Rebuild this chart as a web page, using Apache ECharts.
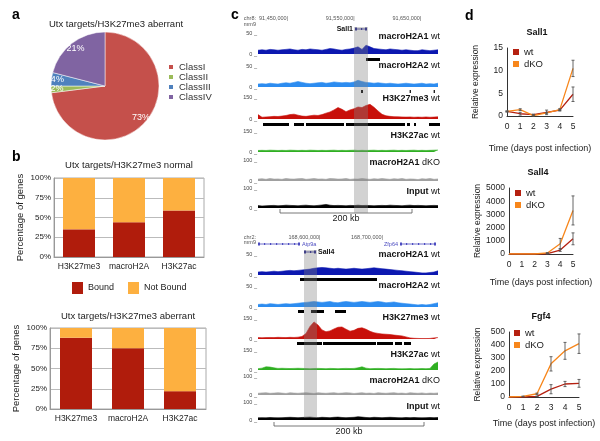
<!DOCTYPE html>
<html>
<head>
<meta charset="utf-8">
<title>Utx targets / macroH2A</title>
<script src="https://cdn.jsdelivr.net/npm/echarts@6/dist/echarts.min.js"></script>
<style>
  html, body { margin: 0; padding: 0; background: #fff; }
  #main { width: 600px; height: 441px; }
</style>
</head>
<body>
<div id="main"></div>
<script>
// panel a
var pieClasses = ['ClassI', 'ClassII', 'ClassIII', 'ClassIV'];
var piePct = [73, 2, 4, 21];

// panel b
var barCats = ['H3K27me3', 'macroH2A', 'H3K27ac'];
var pctTicks = ['0%', '25%', '50%', '75%', '100%'];
var normalBound = [35, 44, 59];
var normalNotBound = [65, 56, 41];
var aberrantBound = [88, 75, 22];
var aberrantNotBound = [12, 25, 78];

// panel c, top locus (chr8, kb, 46 bins)
var chr8Start = 91405, chr8Step = 6;
var chr8Ticks = [91450, 91550, 91650];
var chr8M1 = [9,10,9,11,10,9,10,11,12,10,9,11,10,12,11,10,9,11,13,12,10,9,11,12,14,17,11,21,17,13,12,11,10,12,11,10,9,10,9,8,8,10,9,8,9,10];
var chr8M2 = [7,8,7,9,8,7,9,10,9,11,13,11,9,8,9,10,11,9,10,12,11,10,11,10,12,16,13,11,10,9,10,9,8,9,8,7,8,9,8,7,8,9,7,8,7,9];
var chr8Me3 = [30,12,14,16,18,17,20,24,30,33,26,20,18,22,26,24,30,40,48,62,78,66,50,62,70,82,78,92,100,80,55,32,22,18,16,15,14,13,14,12,13,12,14,12,13,15];
var chr8Ac = [11,12,11,13,12,11,12,11,13,12,11,12,11,13,12,11,12,11,12,13,11,12,11,12,13,11,12,11,12,13,11,12,11,12,13,11,12,11,12,13,11,12,11,12,13,14];
var chr8Dko = [9,11,8,12,9,10,8,12,10,9,11,12,8,10,12,9,10,8,12,11,9,10,12,8,10,9,12,10,8,11,9,12,10,8,11,9,12,8,10,9,7,11,9,12,8,10];
var chr8Input = [12,10,11,12,13,11,12,14,13,12,11,13,14,12,11,13,15,18,14,12,13,12,11,13,12,14,12,13,12,11,12,13,12,14,13,12,11,13,14,12,13,12,11,12,13,12];
var chr8PeaksM1 = [[91567, 91588]];
var chr8PeaksM2 = [[91559.5, 91562.5], [91632.5, 91634], [91668.5, 91670]];
var chr8PeaksMe3 = [[91412.5, 91451.5], [91459, 91474], [91477, 91534], [91537, 91625.5], [91628.5, 91633], [91639, 91642], [91661.5, 91678]];
var chr8Highlight = [[91549, 91570]];
var chr8Genes = ['Sall1'];
var chr8GeneStart = [91550.5];
var chr8GeneEnd = [91568.5];

// panel c, bottom locus (chr2, kb, 46 bins)
var chr2Start = 168500, chr2Step = 6.4;
var chr2Ticks = [168600, 168700];
var chr2M1 = [7,8,7,8,9,8,9,10,11,10,11,12,13,14,16,17,18,17,16,15,16,15,14,15,16,15,14,15,16,17,16,15,14,13,12,11,10,9,8,7,6,5,5,6,7,10];
var chr2M2 = [6,7,6,8,7,6,7,8,7,8,9,10,11,12,13,12,11,12,13,11,10,12,13,12,11,12,13,12,11,12,13,12,10,11,12,10,9,8,7,6,5,6,5,6,8,10];
var chr2Me3 = [10,9,10,11,10,12,11,10,12,11,13,18,40,90,122,100,65,52,58,72,84,86,70,56,62,76,80,70,55,45,40,36,34,32,28,25,22,15,8,5,4,3,3,4,8,10];
var chr2Ac = [10,14,24,22,16,12,13,12,11,12,13,12,11,10,11,12,11,10,12,11,10,11,12,11,12,16,24,14,10,11,12,11,10,11,12,10,9,10,11,9,10,11,10,12,45,60];
var chr2Dko = [9,11,12,9,10,12,10,8,12,10,9,11,12,10,8,12,10,9,11,12,9,10,12,11,8,10,12,9,10,8,12,10,9,11,12,9,10,8,12,10,9,11,8,10,9,11];
var chr2Input = [12,13,12,14,13,12,13,14,15,14,13,14,15,16,14,13,15,14,13,15,16,14,13,14,15,18,16,14,13,15,14,13,14,15,14,13,12,14,13,14,13,12,13,14,13,14];
var chr2PeaksM1 = [[168567.2, 168690.4]];
var chr2PeaksM2 = [[168564, 168573.6], [168584.8, 168605.6], [168623.2, 168640.8]];
var chr2PeaksMe3 = [[168562.4, 168602.4], [168604, 168688.8], [168690.4, 168716], [168719.2, 168730.4], [168733.6, 168744.8]];
var chr2Highlight = [[168573.6, 168594.4]];
var chr2Genes = ['Atp9a', 'Sall4', 'Zfp64'];
var chr2GeneStart = [168500, 168573.6, 168727.2];
var chr2GeneEnd = [168567.2, 168592.8, 168784.8];

// panel d
var days = [0, 1, 2, 3, 4, 5];
var sall1Wt = [1.0, 0.5, 0.3, 0.8, 1.3, 4.8];
var sall1WtErr = [0.1, 0.3, 0.1, 0.5, 0.2, 1.6];
var sall1Ko = [1.0, 1.4, 0.1, 0.7, 1.4, 10.5];
var sall1KoErr = [0.1, 0.2, 0.1, 0.1, 0.2, 1.8];
var sall4Wt = [0, 0, 0, 20, 300, 1150];
var sall4WtErr = [0, 0, 0, 10, 100, 450];
var sall4Ko = [0, 0, 0, 80, 780, 3300];
var sall4KoErr = [0, 0, 0, 20, 400, 1100];
var fgf4Wt = [0, 0, 5, 60, 100, 105];
var fgf4WtErr = [0, 0, 2, 35, 20, 30];
var fgf4Ko = [0, 5, 25, 255, 355, 410];
var fgf4KoErr = [0, 2, 5, 55, 65, 75];

var FONT = '"Liberation Sans", Arial, sans-serif';
var BOUND = '#b01c0c', NOTBOUND = '#fdb040';
var WT = '#b52010', KO = '#f7861b';

var grid = [], xAxis = [], yAxis = [], series = [], graphic = [], legend = [];

function addGrid(g, xa, ya) {
  var i = grid.length;
  grid.push(g);
  xa.gridIndex = i;
  ya.gridIndex = i;
  xAxis.push(xa);
  yAxis.push(ya);
  return i;
}

function txt(x, y, s, o) {
  o = o || {};
  graphic.push({
    type: 'text', x: x, y: y, silent: true,
    style: {
      text: s, fill: o.color || '#222', fontSize: o.size || 9,
      fontWeight: o.weight || 'normal', fontFamily: FONT,
      align: o.align || 'left', verticalAlign: 'middle', rich: o.rich
    }
  });
}

function kbLabel(v) {
  return String(Math.round(v * 1000)).replace(/\B(?=(\d{3})+(?!\d))/g, ',') + '|';
}

// ---------- panel a ----------
series.push({
  type: 'pie', center: [105, 86], radius: 54, startAngle: 90,
  color: ['#c5504b', '#9bbb59', '#4f81bd', '#8064a2'],
  label: { show: false }, labelLine: { show: false },
  itemStyle: { borderColor: '#fff', borderWidth: 0.5 },
  data: pieClasses.map(function (n, i) { return { name: n, value: piePct[i] }; })
});
series.push({
  type: 'pie', center: [105, 86], radius: [36, 54], startAngle: 90, silent: true,
  legendHoverLink: false,
  itemStyle: { color: 'rgba(0,0,0,0)' },
  label: { position: 'inside', formatter: '{c}%', color: '#fff', fontSize: 9, fontFamily: FONT },
  data: pieClasses.map(function (n, i) { return { name: n, value: piePct[i] }; })
});
legend.push({
  data: pieClasses, orient: 'vertical', left: 162, top: 57, icon: 'rect',
  itemWidth: 6, itemHeight: 6, itemGap: 0, selectedMode: false,
  textStyle: { fontSize: 9.5, color: '#333', fontFamily: FONT }
});

// ---------- panel b ----------
function barPanel(left, top, width, height, bound, notBound) {
  var gi = addGrid({ left: left, top: top, width: width, height: height, show: true, borderColor: '#aaa', borderWidth: 1 },
    { type: 'category', data: barCats, axisLine: { lineStyle: { color: '#999' } }, axisTick: { show: false },
      axisLabel: { interval: 0, hideOverlap: false, fontSize: 8.5, color: '#222', margin: 5, fontFamily: FONT } },
    { type: 'value', min: 0, max: 100, interval: 25, name: 'Percentage of genes', nameLocation: 'middle', nameGap: 29,
      nameTextStyle: { fontSize: 9.5, color: '#222', fontFamily: FONT },
      axisLine: { show: true, lineStyle: { color: '#999' } }, axisTick: { show: false },
      splitLine: { lineStyle: { color: '#bbb' } },
      axisLabel: { fontSize: 8, color: '#222', margin: 3, fontFamily: FONT, formatter: function (v) { return pctTicks[v / 25]; } } });
  series.push({ name: 'Bound', type: 'bar', stack: 's' + gi, xAxisIndex: gi, yAxisIndex: gi, data: bound, barWidth: 32, itemStyle: { color: BOUND } });
  series.push({ name: 'Not Bound', type: 'bar', stack: 's' + gi, xAxisIndex: gi, yAxisIndex: gi, data: notBound, barWidth: 32, itemStyle: { color: NOTBOUND } });
}
barPanel(54, 178, 150, 79, normalBound, normalNotBound);
barPanel(50, 328, 156, 81, aberrantBound, aberrantNotBound);
legend.push({
  data: ['Bound', 'Not Bound'], left: 67, top: 277, icon: 'rect', itemWidth: 11, itemHeight: 12, itemGap: 14,
  selectedMode: false, textStyle: { fontSize: 9, color: '#222', fontFamily: FONT }
});

// ---------- panel c ----------
function peakItem(off) {
  return function (params, api) {
    var s = api.coord([api.value(0), 0]);
    var e = api.coord([api.value(1), 0]);
    return { type: 'rect', shape: { x: s[0], y: s[1] + off, width: Math.max(e[0] - s[0], 1.2), height: 3 }, style: { fill: '#000' } };
  };
}

function locus(start, step, tracks, ticks, tickMargin, hlTop, hlHeight, hl, geneTop, geneHeight, genes, gStart, gEnd, gRow) {
  var xmin = start, xmax = start + 45 * step;
  tracks.forEach(function (t) {
    var gi = addGrid({ left: 258, width: 180, top: t.top, height: t.h },
      { type: 'value', min: xmin, max: xmax, show: false },
      { type: 'value', min: 0, max: t.max, axisLine: { show: false }, axisTick: { show: false }, splitLine: { show: false },
        axisLabel: { customValues: [0, t.max], formatter: '{value} _', fontSize: 5.5, color: '#444', margin: 1, fontFamily: FONT } });
    series.push({
      type: 'line', xAxisIndex: gi, yAxisIndex: gi, showSymbol: false, silent: true, z: 3,
      lineStyle: { width: 0.6, color: t.color }, areaStyle: { color: t.color, opacity: 1 },
      data: t.data.map(function (v, i) { return [start + i * step, v]; })
    });
    if (t.peaks) {
      series.push({ type: 'custom', xAxisIndex: gi, yAxisIndex: gi, silent: true, z: 3, renderItem: peakItem(t.off), data: t.peaks });
    }
    txt(440, t.ly, '{b|' + t.bold + '}' + t.rest, { size: 9, align: 'right', color: '#111', rich: { b: { fontWeight: 'bold', fontSize: 9, fontFamily: FONT } } });
  });

  // highlighted gene column + coordinate header
  var ri = addGrid({ left: 258, width: 180, top: hlTop, height: hlHeight },
    { type: 'value', min: xmin, max: xmax, position: 'top', axisLine: { show: false }, axisTick: { show: false }, splitLine: { show: false },
      axisLabel: { customValues: ticks, formatter: kbLabel, fontSize: 5.5, color: '#555', margin: tickMargin, align: 'right', fontFamily: FONT } },
    { type: 'value', min: 0, max: 1, show: false });
  series.push({
    type: 'custom', xAxisIndex: ri, yAxisIndex: ri, silent: true, z: 6, data: hl,
    renderItem: function (params, api) {
      var a = api.coord([api.value(0), 1]), b = api.coord([api.value(1), 0]);
      return { type: 'rect', shape: { x: a[0], y: a[1], width: b[0] - a[0], height: b[1] - a[1] }, style: { fill: 'rgba(130,130,130,0.36)' } };
    }
  });

  // gene models
  var gi2 = addGrid({ left: 258, width: 180, top: geneTop, height: geneHeight },
    { type: 'value', min: xmin, max: xmax, show: false },
    { type: 'value', min: 0, max: 1, show: false });
  series.push({
    type: 'custom', xAxisIndex: gi2, yAxisIndex: gi2, silent: true, z: 4,
    data: genes.map(function (g, i) { return [gStart[i], gEnd[i], gRow[i], i]; }),
    renderItem: function (params, api) {
      var i = api.value(3), name = genes[i];
      var s = api.coord([api.value(0), api.value(2)]), e = api.coord([api.value(1), api.value(2)]);
      var main = (name === 'Sall1' || name === 'Sall4');
      var col = main ? '#1c1c8a' : '#4b4bc0';
      var kids = [
        { type: 'line', shape: { x1: s[0], y1: s[1], x2: e[0], y2: e[1] }, style: { stroke: col, lineWidth: 0.8 } },
        { type: 'rect', shape: { x: s[0], y: s[1] - 1.5, width: 2, height: 3 }, style: { fill: col } },
        { type: 'rect', shape: { x: e[0] - 2, y: e[1] - 1.5, width: 2, height: 3 }, style: { fill: col } }
      ];
      for (var x = s[0] + 6; x < e[0] - 4; x += 6) {
        kids.push({ type: 'rect', shape: { x: x, y: s[1] - 1, width: 1.2, height: 2 }, style: { fill: col } });
      }
      var left = (name === 'Sall1' || name === 'Zfp64');
      kids.push({
        type: 'text', x: left ? s[0] - 2 : e[0] + 2, y: s[1],
        style: { text: name, fill: main ? '#111' : '#4b4bc0', fontSize: main ? 7 : 5.5, fontWeight: main ? 'bold' : 'normal',
          fontFamily: FONT, align: left ? 'right' : 'left', verticalAlign: 'middle' }
      });
      return { type: 'group', children: kids };
    }
  });
}

locus(chr8Start, chr8Step, [
  { data: chr8M1, max: 50, color: '#0c18b0', top: 33, h: 21, bold: 'macroH2A1', rest: ' wt', ly: 37, peaks: chr8PeaksM1, off: 4 },
  { data: chr8M2, max: 50, color: '#2c8cf0', top: 66, h: 21, bold: 'macroH2A2', rest: ' wt', ly: 66, peaks: chr8PeaksM2, off: 3 },
  { data: chr8Me3, max: 150, color: '#c8100a', top: 97, h: 22, bold: 'H3K27me3', rest: ' wt', ly: 99, peaks: chr8PeaksMe3, off: 4 },
  { data: chr8Ac, max: 150, color: '#2faf22', top: 131, h: 21, bold: 'H3K27ac', rest: ' wt', ly: 136 },
  { data: chr8Dko, max: 100, color: '#a0a0a0', top: 160, h: 21, bold: 'macroH2A1', rest: ' dKO', ly: 163 },
  { data: chr8Input, max: 100, color: '#000000', top: 188, h: 20, bold: 'Input', rest: ' wt', ly: 192 }
], chr8Ticks, 6, 27, 186, chr8Highlight, 25, 8, chr8Genes, chr8GeneStart, chr8GeneEnd, [0.5]);

locus(chr2Start, chr2Step, [
  { data: chr2M1, max: 50, color: '#0c18b0', top: 254, h: 21, bold: 'macroH2A1', rest: ' wt', ly: 255, peaks: chr2PeaksM1, off: 3 },
  { data: chr2M2, max: 50, color: '#2c8cf0', top: 286, h: 21, bold: 'macroH2A2', rest: ' wt', ly: 286, peaks: chr2PeaksM2, off: 3 },
  { data: chr2Me3, max: 150, color: '#c8100a', top: 318, h: 21, bold: 'H3K27me3', rest: ' wt', ly: 318, peaks: chr2PeaksMe3, off: 3 },
  { data: chr2Ac, max: 150, color: '#2faf22', top: 350, h: 20, bold: 'H3K27ac', rest: ' wt', ly: 355 },
  { data: chr2Dko, max: 100, color: '#a0a0a0', top: 376, h: 19, bold: 'macroH2A1', rest: ' dKO', ly: 381 },
  { data: chr2Input, max: 100, color: '#000000', top: 402, h: 18, bold: 'Input', rest: ' wt', ly: 407 }
], chr2Ticks, 10, 250, 168, chr2Highlight, 240, 16, chr2Genes, chr2GeneStart, chr2GeneEnd, [0.75, 0.25, 0.75]);

txt(256, 18, 'chr8:', { size: 5.5, align: 'right', color: '#555' });
txt(256, 24, 'mm9', { size: 5.5, align: 'right', color: '#555' });
txt(256, 237, 'chr2:', { size: 5.5, align: 'right', color: '#555' });
txt(256, 242, 'mm9', { size: 5.5, align: 'right', color: '#555' });

function scaleBar(x1, x2, y, label) {
  graphic.push({ type: 'polyline', silent: true, shape: { points: [[x1, y - 4], [x1, y], [x2, y], [x2, y - 4]] }, style: { stroke: '#555', lineWidth: 0.8, fill: null } });
  txt((x1 + x2) / 2, y + 6, label, { size: 9, align: 'center', color: '#222' });
}
scaleBar(280, 412, 213, '200 kb');
scaleBar(274, 424, 426, '200 kb');

// ---------- panel d ----------
function errItem(params, api) {
  if (api.value(2) - api.value(1) <= 0) return null;
  var t = api.coord([api.value(0), api.value(2)]), b = api.coord([api.value(0), api.value(1)]);
  var st = { stroke: '#555', lineWidth: 0.9 };
  return { type: 'group', children: [
    { type: 'line', shape: { x1: t[0], y1: t[1], x2: b[0], y2: b[1] }, style: st },
    { type: 'line', shape: { x1: t[0] - 1.5, y1: t[1], x2: t[0] + 1.5, y2: t[1] }, style: st },
    { type: 'line', shape: { x1: b[0] - 1.5, y1: b[1], x2: b[0] + 1.5, y2: b[1] }, style: st }
  ] };
}

function expPanel(title, left, top, width, height, ymax, yint, wt, wtErr, ko, koErr, legLeft, legTop, xGap) {
  var gi = addGrid({ left: left, top: top, width: width, height: height },
    { type: 'value', min: 0, max: 5, interval: 1, name: 'Time (days post infection)', nameLocation: 'middle', nameGap: xGap,
      nameTextStyle: { fontSize: 9, color: '#222', fontFamily: FONT },
      axisLine: { lineStyle: { color: '#333' } }, axisTick: { show: false }, splitLine: { show: false },
      axisLabel: { fontSize: 8.5, color: '#222', margin: 6, fontFamily: FONT } },
    { type: 'value', min: 0, max: ymax, interval: yint, name: 'Relative expression', nameLocation: 'middle', nameGap: 27,
      nameTextStyle: { fontSize: 8.5, color: '#222', fontFamily: FONT },
      axisLine: { show: true, lineStyle: { color: '#333' } }, axisTick: { show: false }, splitLine: { show: false },
      axisLabel: { fontSize: 8.5, color: '#222', margin: 4, fontFamily: FONT, formatter: function (v) { return String(v); } } });
  series.push({ name: 'wt', type: 'line', xAxisIndex: gi, yAxisIndex: gi, symbol: 'none', z: 3, lineStyle: { width: 1.3, color: WT }, itemStyle: { color: WT },
    data: days.map(function (d, i) { return [d, wt[i]]; }) });
  series.push({ name: 'dKO', type: 'line', xAxisIndex: gi, yAxisIndex: gi, symbol: 'none', z: 3, lineStyle: { width: 1.3, color: KO }, itemStyle: { color: KO },
    data: days.map(function (d, i) { return [d, ko[i]]; }) });
  series.push({ type: 'custom', xAxisIndex: gi, yAxisIndex: gi, silent: true, z: 4, renderItem: errItem,
    data: days.map(function (d, i) { return [d, wt[i] - wtErr[i], wt[i] + wtErr[i]]; }) });
  series.push({ type: 'custom', xAxisIndex: gi, yAxisIndex: gi, silent: true, z: 4, renderItem: errItem,
    data: days.map(function (d, i) { return [d, ko[i] - koErr[i], ko[i] + koErr[i]]; }) });
  legend.push({ data: ['wt', 'dKO'], orient: 'vertical', left: legLeft, top: legTop, icon: 'rect', itemWidth: 6, itemHeight: 6, itemGap: 2,
    selectedMode: false, textStyle: { fontSize: 9.5, color: '#222', fontFamily: FONT } });
  txt(left + width / 2 - 3, top - 15, title, { size: 9, weight: 'bold', align: 'center', color: '#111' });
}
expPanel('Sall1', 507, 48, 66, 68, 15, 5, sall1Wt, sall1WtErr, sall1Ko, sall1KoErr, 508, 42, 28);
expPanel('Sall4', 509, 188, 64, 66, 5000, 1000, sall4Wt, sall4WtErr, sall4Ko, sall4KoErr, 510, 183, 24);
expPanel('Fgf4', 509, 332, 70, 65, 500, 100, fgf4Wt, fgf4WtErr, fgf4Ko, fgf4KoErr, 509, 323, 22);

// titles and panel letters
txt(116, 24, 'Utx targets/H3K27me3 aberrant', { size: 9.5, align: 'center' });
txt(129, 165, 'Utx targets/H3K27me3 normal', { size: 9.5, align: 'center' });
txt(128, 316, 'Utx targets/H3K27me3 aberrant', { size: 9.5, align: 'center' });
txt(12, 15, 'a', { size: 14, weight: 'bold', color: '#000' });
txt(12, 157, 'b', { size: 14, weight: 'bold', color: '#000' });
txt(231, 15, 'c', { size: 14, weight: 'bold', color: '#000' });
txt(465, 16, 'd', { size: 14, weight: 'bold', color: '#000' });

var chart = echarts.init(document.getElementById('main'));
chart.setOption({
  animation: false,
  backgroundColor: '#fff',
  textStyle: { fontFamily: FONT },
  grid: grid, xAxis: xAxis, yAxis: yAxis,
  legend: legend, series: series, graphic: graphic
});
</script>
</body>
</html>
